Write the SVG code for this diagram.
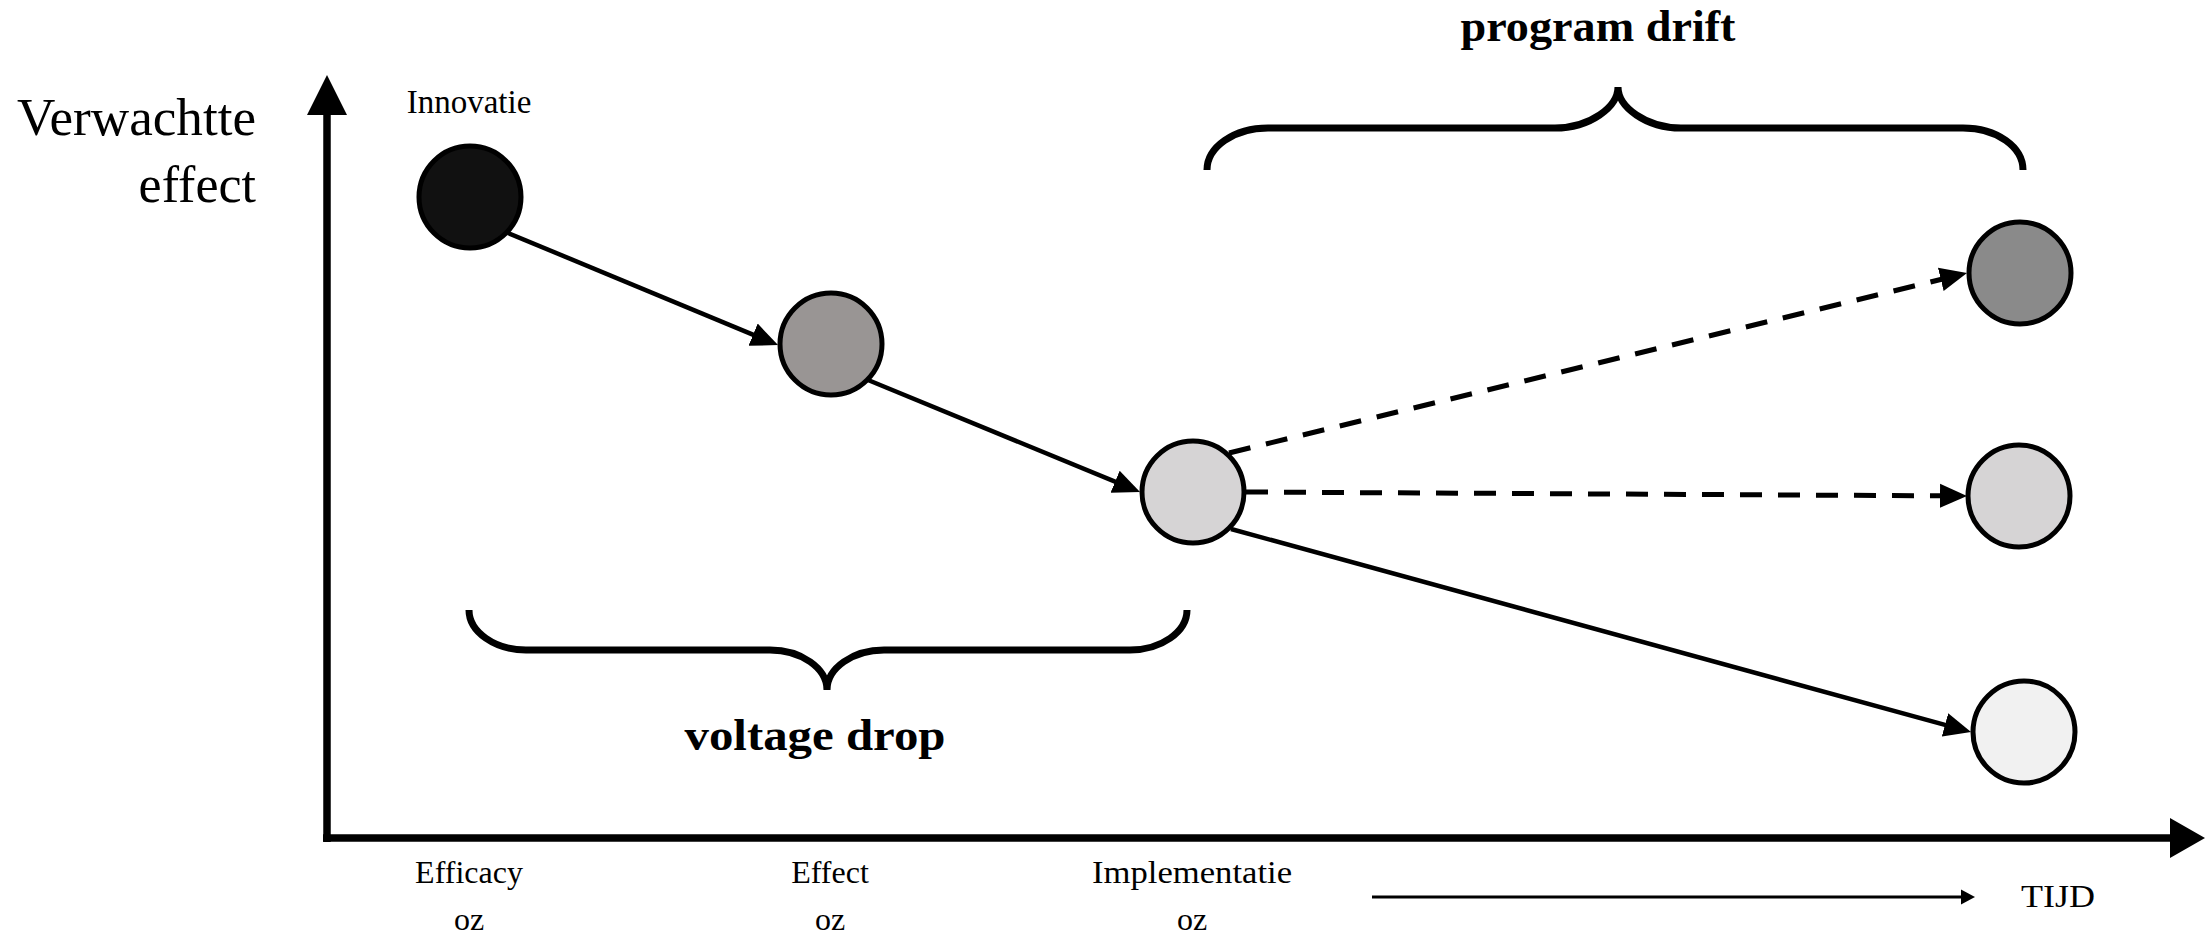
<svg xmlns="http://www.w3.org/2000/svg" width="2205" height="933" viewBox="0 0 2205 933">
<style>
  text { font-family: "Liberation Serif", "Times New Roman", serif; fill: #000; }
  .node { stroke: #000; stroke-width: 5; }
  .conn { stroke: #000; stroke-width: 4.5; fill: none; }
  .dash { stroke-dasharray: 22 16; stroke-width: 5; }
  .brace { stroke: #000; stroke-width: 7; fill: none; }
  .axis { stroke: #000; stroke-width: 7.5; fill: none; }
  .bold { font-weight: bold; font-size: 44px; }
  .lbl { font-size: 32px; }
</style>
<defs>
  <marker id="ah" markerUnits="userSpaceOnUse" markerWidth="28" markerHeight="26" refX="17" refY="12" orient="auto" viewBox="0 0 28 24">
    <path d="M0,0 L27,12 L0,24 z" fill="#000"/>
  </marker>
</defs>
<rect width="2205" height="933" fill="#fff"/>

<g id="axes">
  <line class="axis" x1="327" y1="842" x2="327" y2="113"/>
  <polygon points="307,115 347,115 327,75" fill="#000"/>
  <line class="axis" x1="323" y1="838" x2="2172" y2="838"/>
  <polygon points="2170,818 2205,838 2170,858" fill="#000"/>
  <line x1="1372" y1="897" x2="1963" y2="897" stroke="#000" stroke-width="3"/>
  <polygon points="1961,889.5 1975,897 1961,904.5" fill="#000"/>
</g>

<g id="axis-labels">
  <text x="256" y="135" font-size="52" text-anchor="end" textLength="239" lengthAdjust="spacingAndGlyphs">Verwachtte</text>
  <text x="256" y="202" font-size="52" text-anchor="end">effect</text>
  <text class="lbl" x="469" y="883" text-anchor="middle">Efficacy</text>
  <text class="lbl" x="469" y="930" text-anchor="middle">oz</text>
  <text class="lbl" x="830" y="883" text-anchor="middle">Effect</text>
  <text class="lbl" x="830" y="930" text-anchor="middle">oz</text>
  <text class="lbl" x="1192" y="883" text-anchor="middle" textLength="200" lengthAdjust="spacingAndGlyphs">Implementatie</text>
  <text class="lbl" x="1192" y="930" text-anchor="middle">oz</text>
  <text class="lbl" x="2021" y="907" textLength="74" lengthAdjust="spacingAndGlyphs">TIJD</text>
</g>

<g id="connectors">
  <line class="conn" x1="508" y1="233" x2="768.8" y2="341.2" marker-end="url(#ah)"/>
  <line class="conn" x1="868" y1="380" x2="1130.8" y2="488.2" marker-end="url(#ah)"/>
  <line class="conn dash" x1="1229" y1="453" x2="1957.3" y2="275.4" marker-end="url(#ah)"/>
  <line class="conn dash" x1="1246" y1="492" x2="1957" y2="495.9" marker-end="url(#ah)"/>
  <line class="conn" x1="1231" y1="529" x2="1961.4" y2="729.4" marker-end="url(#ah)"/>
</g>

<g id="innovatie">
  <circle class="node" cx="470" cy="197" r="51" fill="#111111"/>
  <text x="469" y="113" font-size="33" text-anchor="middle">Innovatie</text>
</g>
<g id="node-effect">
  <circle class="node" cx="831" cy="344" r="51" fill="#999594"/>
</g>
<g id="node-implementatie">
  <circle class="node" cx="1193" cy="492" r="51" fill="#d6d4d5"/>
</g>
<g id="node-high">
  <circle class="node" cx="2020" cy="273" r="51" fill="#8a8a8a"/>
</g>
<g id="node-mid">
  <circle class="node" cx="2019" cy="496" r="51" fill="#d6d4d5"/>
</g>
<g id="node-low">
  <circle class="node" cx="2024" cy="732" r="51" fill="#f1f1f1"/>
</g>

<g id="voltage-drop">
  <path class="brace" d="M469,610 C469,632 495,650 526,650 L770,650 C801,650 827,668 827,690 C827,668 853,650 884,650 L1130,650 C1161,650 1187,632 1187,610"/>
  <text class="bold" x="815" y="750" text-anchor="middle" textLength="261" lengthAdjust="spacingAndGlyphs">voltage drop</text>
</g>

<g id="program-drift">
  <path class="brace" d="M1207,170 C1207,147 1234,128 1268,128 L1555,128 C1590,128 1618,107 1618,87 C1618,107 1646,128 1681,128 L1963,128 C1997,128 2023,147 2023,170"/>
  <text class="bold" x="1598" y="41" text-anchor="middle" textLength="275" lengthAdjust="spacingAndGlyphs">program drift</text>
</g>
</svg>
